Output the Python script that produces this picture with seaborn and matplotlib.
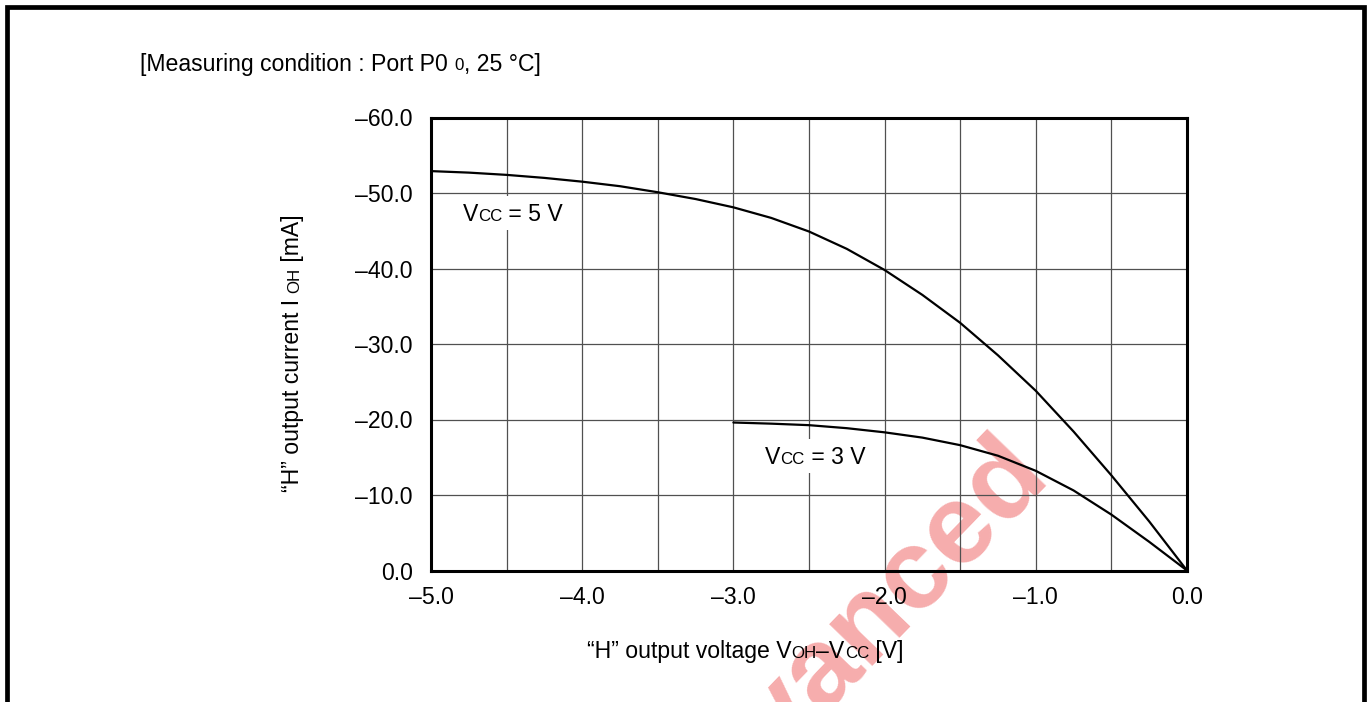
import matplotlib
matplotlib.use("Agg")
import matplotlib.pyplot as plt
import numpy as np
import pandas as pd
import seaborn as sns
from matplotlib.patches import Rectangle
from matplotlib.ticker import MultipleLocator, FixedLocator, FuncFormatter

# Output characteristics: IOH versus VOH - VCC, port P0_0 at 25 degC
voltage_5v = [-5.0, -4.75, -4.5, -4.25, -4.0, -3.75, -3.5, -3.25, -3.0, -2.75, -2.5,
              -2.25, -2.0, -1.75, -1.5, -1.25, -1.0, -0.75, -0.5, -0.25, 0.0]
current_5v = [-52.9, -52.7, -52.4, -52.0, -51.5, -50.9, -50.1, -49.2, -48.1, -46.7, -44.9,
              -42.6, -39.8, -36.5, -32.8, -28.5, -23.8, -18.4, -12.6, -6.5, 0.0]

voltage_3v = [-3.0, -2.75, -2.5, -2.25, -2.0, -1.75, -1.5, -1.25, -1.0, -0.75, -0.5, -0.25, 0.0]
current_3v = [-19.6, -19.45, -19.25, -18.85, -18.3, -17.6, -16.6, -15.2, -13.2, -10.6, -7.4, -3.8, 0.0]

x_ticks = [-5.0, -4.0, -3.0, -2.0, -1.0, 0.0]
y_ticks = [0.0, -10.0, -20.0, -30.0, -40.0, -50.0, -60.0]

W, H = 1370, 702
BASE = 16.6
SMALL = 12.2

sns.set_theme(style="white")
plt.rcParams["font.family"] = ["Liberation Sans", "DejaVu Sans"]

fig = plt.figure(figsize=(W / 100, H / 100), dpi=100)
fig.patch.set_facecolor("white")
ax = fig.add_axes([431 / W, 1 - 570.5 / H, (1187 - 431) / W, (570.5 - 117.5) / H])
ax.patch.set_alpha(0)

df = pd.concat([
    pd.DataFrame({"V": voltage_5v, "I": current_5v, "Vcc": "5 V"}),
    pd.DataFrame({"V": voltage_3v, "I": current_3v, "Vcc": "3 V"}),
])
sns.lineplot(data=df, x="V", y="I", hue="Vcc", palette={"5 V": "black", "3 V": "black"},
             estimator=None, sort=False, legend=False, linewidth=1.6, ax=ax, zorder=3)

ax.set_xlim(-5.0, 0.0)
ax.set_ylim(0.0, -60.0)
ax.xaxis.set_major_locator(FixedLocator(x_ticks))
ax.xaxis.set_minor_locator(MultipleLocator(0.5))
ax.yaxis.set_major_locator(FixedLocator(y_ticks))


def dash_fmt(v, pos):
    if abs(v) < 1e-9:
        return "0.0"
    return f"{v:.1f}".replace("-", "\u2013")


ax.xaxis.set_major_formatter(FuncFormatter(dash_fmt))
ax.yaxis.set_major_formatter(FuncFormatter(dash_fmt))
ax.grid(which="both", color="#505050", linewidth=0.9)
ax.tick_params(axis="both", which="both", length=0, labelsize=BASE, labelcolor="black")
ax.tick_params(axis="x", pad=11)
ax.tick_params(axis="y", pad=13)
ax.set_xlabel("")
ax.set_ylabel("")
for sp in ax.spines.values():
    sp.set_visible(True)
    sp.set_color("black")
    sp.set_linewidth(2.2)

renderer = fig.canvas.get_renderer()


def text_width(s, size):
    a = fig.text(0, 0, "|" + s + "|", fontsize=size)
    b = fig.text(0, 0, "||", fontsize=size)
    w = a.get_window_extent(renderer).width - b.get_window_extent(renderer).width
    a.remove()
    b.remove()
    return w


def rich_text(pieces, x_px, y_px, align="left", rotation=0, zorder=4):
    """Draw mixed-size text pieces on a common baseline; coordinates in pixels from bottom-left."""
    widths = [text_width(s, sz) for s, sz in pieces]
    total = sum(widths)
    pos = {"left": 0.0, "center": -total / 2, "right": -total}[align]
    for (s, sz), w in zip(pieces, widths):
        px, py = (x_px + pos, y_px) if rotation == 0 else (x_px, y_px + pos)
        fig.text(px / W, py / H, s, fontsize=sz, color="black", rotation=rotation,
                 rotation_mode="anchor", ha="left", va="baseline", zorder=zorder)
        pos += w
    return total


# Title line
rich_text([("[Measuring condition : Port P0 ", BASE), ("0", SMALL), (", 25 \u00b0C]", BASE)],
          140, H - 70.5)

# Axis labels
rich_text([("\u201cH\u201d output voltage V", BASE), ("OH", SMALL), ("\u2013V", BASE),
           ("CC", SMALL), (" [V]", BASE)], 745, H - 658, align="center")
rich_text([("\u201cH\u201d output current I ", BASE), ("OH", SMALL), (" [mA]", BASE)],
          299, H - 353, align="center", rotation=90)

# Curve labels with white boxes
fig.canvas.draw()
for lx, ly, txt in [(-4.79, -47.3, " = 5 V"), (-2.79, -15.2, " = 3 V")]:
    dx, dy = ax.transData.transform((lx, ly))
    pieces = [("V", BASE), ("CC", SMALL), (txt, BASE)]
    wid = sum(text_width(s, sz) for s, sz in pieces)
    inv = ax.transAxes.inverted()
    (ax0, ay0) = inv.transform((dx - 6, dy - 17))
    (ax1, ay1) = inv.transform((dx + wid + 6, dy + 17))
    ax.add_patch(Rectangle((ax0, ay0), ax1 - ax0, ay1 - ay0, transform=ax.transAxes,
                           facecolor="white", edgecolor="none", zorder=1))
    rich_text(pieces, dx, dy - 8)

# Red status stamp running diagonally across the lower right
fig.text(1052 / W, 1 - 478 / H, "Advanced", fontsize=82, fontweight="bold",
         color="#f6adad", rotation=46, rotation_mode="anchor", ha="right", va="baseline",
         zorder=-1)

# Page frame
fig.add_artist(Rectangle((7 / W, -0.05), (1363.5 - 7) / W, 1.05 - 6.5 / H,
                         transform=fig.transFigure, fill=False, edgecolor="black",
                         linewidth=3.4, clip_on=False, zorder=10))

fig.savefig("out.png", dpi=100)
